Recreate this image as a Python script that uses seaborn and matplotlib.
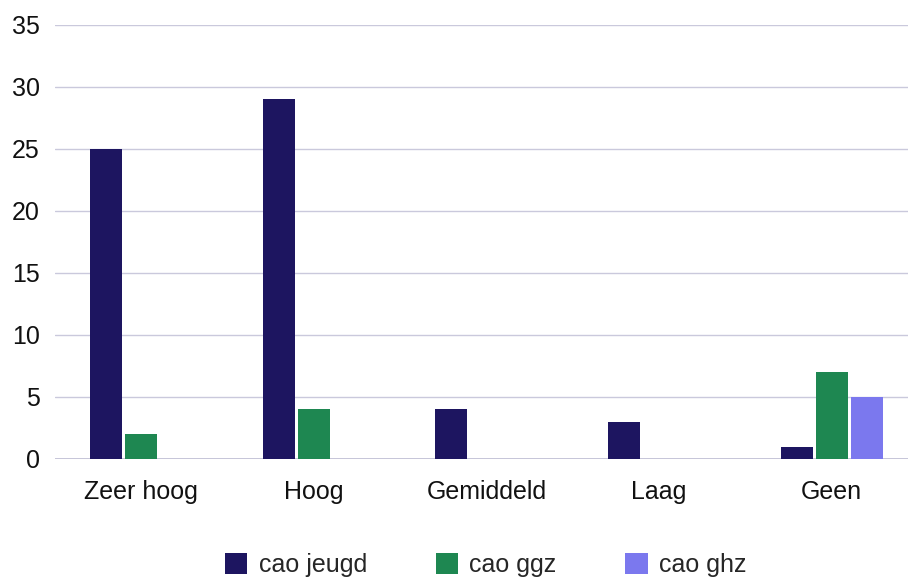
import matplotlib
matplotlib.use("Agg")
import matplotlib.pyplot as plt
import seaborn as sns
import pandas as pd

# ── Data ───────────────────────────────────────────────────────────────────
categories = ["Zeer hoog", "Hoog", "Gemiddeld", "Laag", "Geen"]
series     = ["cao jeugd", "cao ggz", "cao ghz"]
cao_jeugd  = [25, 29, 4, 3, 1]
cao_ggz    = [2, 4, 0, 0, 7]
cao_ghz    = [0, 0, 0, 0, 5]
y_ticks    = [0, 5, 10, 15, 20, 25, 30, 35]

colors = ["#1d1560", "#1e8751", "#7b78ee"]

df = pd.DataFrame({
    "categorie": categories * 3,
    "reeks": [s for s in series for _ in categories],
    "waarde": cao_jeugd + cao_ggz + cao_ghz,
})

# ── Plot ───────────────────────────────────────────────────────────────────
sns.set_style("white")
plt.rcParams["font.family"] = ["Liberation Sans", "DejaVu Sans"]

fig = plt.figure(figsize=(9.08, 5.81), dpi=100)
ax = fig.add_axes([55 / 908, 122 / 581, 853 / 908, 434 / 581])

sns.barplot(data=df, x="categorie", y="waarde", hue="reeks",
            palette=colors, width=0.61, gap=0.09, ax=ax,
            saturation=1, linewidth=0)

ax.set_ylim(0, 35)
ax.set_xlim(-0.5, 4.442)
ax.set_yticks(y_ticks)
ax.yaxis.grid(True, color="#cac9dc", linewidth=1)
ax.set_axisbelow(True)
for s in ax.spines.values():
    s.set_visible(False)
ax.axhline(0, color="#bcbbd2", linewidth=1.2, zorder=0.5)
ax.tick_params(axis="y", length=0, pad=11, labelsize=18, labelcolor="#111111")
ax.tick_params(axis="x", length=0, pad=15, labelsize=18, labelcolor="#111111")
ax.set_xlabel("")
ax.set_ylabel("")

ax.legend(loc="center", bbox_to_anchor=(0.505, -0.245), ncol=3, frameon=False,
          fontsize=18, handlelength=0.9, handleheight=0.9,
          handletextpad=0.45, columnspacing=2.75)

fig.savefig("out.png", dpi=100)
